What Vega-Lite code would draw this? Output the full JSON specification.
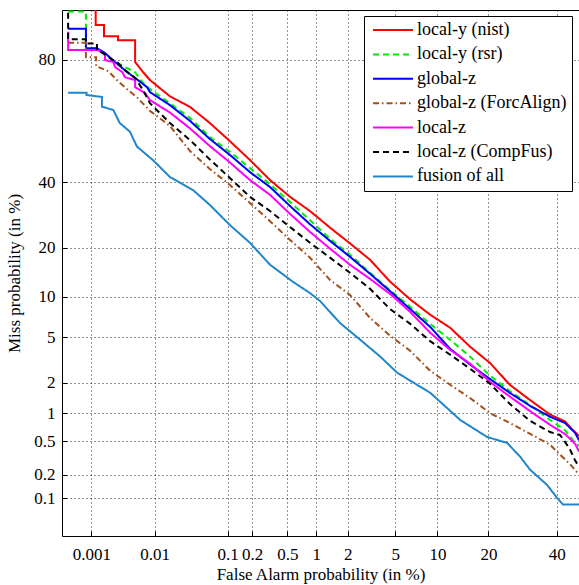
{
  "$schema": "https://vega.github.io/schema/vega-lite/v6.json",
  "width": 517,
  "height": 526,
  "autosize": {"type": "none"},
  "padding": {"left": 62, "top": 10, "right": 0, "bottom": 49},
  "background": "white",
  "config": {
    "font": "Liberation Serif",
    "view": {"stroke": "black", "strokeWidth": 1},
    "axis": {
      "grid": true, "gridDash": [1, 3], "gridColor": "#000000", "gridOpacity": 0.85, "gridWidth": 1,
      "domain": false, "ticks": true, "tickSize": -5, "tickColor": "#000000", "tickWidth": 1,
      "labelFont": "Liberation Serif", "labelFontSize": 17, "labelColor": "#000000",
      "titleFont": "Liberation Serif", "titleFontSize": 17, "titleFontWeight": "normal", "titleColor": "#000000",
      "labelOverlap": false, "labelFlush": false
    },
    "legend": {
      "orient": "none", "legendX": 302, "legendY": 6,
      "strokeColor": "#000000", "fillColor": "#ffffff", "padding": 5,
      "symbolType": "stroke", "symbolSize": 1600, "symbolStrokeWidth": 2,
      "labelFont": "Liberation Serif", "labelFontSize": 18, "labelColor": "#000000",
      "clipHeight": 18, "rowPadding": 6.4, "labelOffset": 3, "symbolOffset": 3, "labelLimit": 300
    }
  },
  "data": {"values": [
    {"s":"local-y (nist)","fa":0.00118,"miss":95},{"s":"local-y (nist)","fa":0.00118,"miss":87.6},{"s":"local-y (nist)","fa":0.00162,"miss":87.6},{"s":"local-y (nist)","fa":0.00162,"miss":85.4},{"s":"local-y (nist)","fa":0.00273,"miss":85.4},{"s":"local-y (nist)","fa":0.00273,"miss":84.6},{"s":"local-y (nist)","fa":0.00506,"miss":84.6},{"s":"local-y (nist)","fa":0.00506,"miss":79.5},{"s":"local-y (nist)","fa":0.0067,"miss":76.8},{"s":"local-y (nist)","fa":0.0085,"miss":74.6},{"s":"local-y (nist)","fa":0.0167,"miss":69.7},{"s":"local-y (nist)","fa":0.032,"miss":66.3},{"s":"local-y (nist)","fa":0.059,"miss":60.9},{"s":"local-y (nist)","fa":0.107,"miss":54.5},{"s":"local-y (nist)","fa":0.188,"miss":47.8},{"s":"local-y (nist)","fa":0.322,"miss":40.7},{"s":"local-y (nist)","fa":0.535,"miss":35.0},{"s":"local-y (nist)","fa":0.865,"miss":30.4},{"s":"local-y (nist)","fa":1.365,"miss":25.4},{"s":"local-y (nist)","fa":2.09,"miss":21.1},{"s":"local-y (nist)","fa":3.13,"miss":17.1},{"s":"local-y (nist)","fa":4.55,"miss":12.6},{"s":"local-y (nist)","fa":6.47,"miss":9.6},{"s":"local-y (nist)","fa":8.94,"miss":7.46},{"s":"local-y (nist)","fa":12.05,"miss":5.95},{"s":"local-y (nist)","fa":15.86,"miss":4.19},{"s":"local-y (nist)","fa":20.4,"miss":3.03},{"s":"local-y (nist)","fa":25.6,"miss":1.91},{"s":"local-y (nist)","fa":31.5,"miss":1.36},{"s":"local-y (nist)","fa":37.8,"miss":0.97},{"s":"local-y (nist)","fa":42.8,"miss":0.82},{"s":"local-y (nist)","fa":45.5,"miss":0.66},{"s":"local-y (nist)","fa":47.6,"miss":0.57},
    {"s":"local-y (rsr)","fa":0.0004,"miss":89.9},{"s":"local-y (rsr)","fa":0.00081,"miss":89.9},{"s":"local-y (rsr)","fa":0.00081,"miss":82.8},{"s":"local-y (rsr)","fa":0.00124,"miss":82.8},{"s":"local-y (rsr)","fa":0.00168,"miss":81.7},{"s":"local-y (rsr)","fa":0.0022,"miss":80.0},{"s":"local-y (rsr)","fa":0.0035,"miss":78.2},{"s":"local-y (rsr)","fa":0.00506,"miss":76.8},{"s":"local-y (rsr)","fa":0.0065,"miss":74.0},{"s":"local-y (rsr)","fa":0.0085,"miss":71.9},{"s":"local-y (rsr)","fa":0.0167,"miss":67.5},{"s":"local-y (rsr)","fa":0.032,"miss":62.6},{"s":"local-y (rsr)","fa":0.059,"miss":56.0},{"s":"local-y (rsr)","fa":0.107,"miss":50.7},{"s":"local-y (rsr)","fa":0.188,"miss":44.9},{"s":"local-y (rsr)","fa":0.322,"miss":39.3},{"s":"local-y (rsr)","fa":0.535,"miss":33.3},{"s":"local-y (rsr)","fa":0.865,"miss":27.6},{"s":"local-y (rsr)","fa":1.365,"miss":22.3},{"s":"local-y (rsr)","fa":2.09,"miss":18.3},{"s":"local-y (rsr)","fa":3.13,"miss":14.3},{"s":"local-y (rsr)","fa":4.55,"miss":11.1},{"s":"local-y (rsr)","fa":6.47,"miss":8.5},{"s":"local-y (rsr)","fa":8.94,"miss":6.37},{"s":"local-y (rsr)","fa":12.05,"miss":4.77},{"s":"local-y (rsr)","fa":15.86,"miss":3.45},{"s":"local-y (rsr)","fa":20.4,"miss":2.33},{"s":"local-y (rsr)","fa":25.6,"miss":1.67},{"s":"local-y (rsr)","fa":31.5,"miss":1.21},{"s":"local-y (rsr)","fa":37.8,"miss":0.85},{"s":"local-y (rsr)","fa":42.8,"miss":0.66},{"s":"local-y (rsr)","fa":46.2,"miss":0.48},{"s":"local-y (rsr)","fa":47.6,"miss":0.44},
    {"s":"global-z","fa":0.0004,"miss":86.9},{"s":"global-z","fa":0.00081,"miss":86.9},{"s":"global-z","fa":0.00081,"miss":82.8},{"s":"global-z","fa":0.00124,"miss":82.8},{"s":"global-z","fa":0.0014,"miss":82.4},{"s":"global-z","fa":0.00168,"miss":81.7},{"s":"global-z","fa":0.002,"miss":80.7},{"s":"global-z","fa":0.00244,"miss":79.5},{"s":"global-z","fa":0.0032,"miss":77.9},{"s":"global-z","fa":0.0038,"miss":76.8},{"s":"global-z","fa":0.00506,"miss":75.2},{"s":"global-z","fa":0.0077,"miss":72.5},{"s":"global-z","fa":0.0085,"miss":71.0},{"s":"global-z","fa":0.0167,"miss":66.9},{"s":"global-z","fa":0.032,"miss":61.6},{"s":"global-z","fa":0.059,"miss":55.3},{"s":"global-z","fa":0.107,"miss":49.6},{"s":"global-z","fa":0.188,"miss":43.5},{"s":"global-z","fa":0.322,"miss":38.3},{"s":"global-z","fa":0.535,"miss":32.0},{"s":"global-z","fa":0.865,"miss":26.4},{"s":"global-z","fa":1.365,"miss":21.75},{"s":"global-z","fa":2.09,"miss":17.8},{"s":"global-z","fa":3.13,"miss":14.1},{"s":"global-z","fa":4.55,"miss":10.9},{"s":"global-z","fa":6.47,"miss":8.2},{"s":"global-z","fa":8.94,"miss":6.04},{"s":"global-z","fa":12.05,"miss":4.02},{"s":"global-z","fa":15.86,"miss":2.94},{"s":"global-z","fa":20.4,"miss":2.17},{"s":"global-z","fa":25.6,"miss":1.6},{"s":"global-z","fa":31.5,"miss":1.19},{"s":"global-z","fa":37.8,"miss":0.92},{"s":"global-z","fa":42.8,"miss":0.79},{"s":"global-z","fa":46.2,"miss":0.62},{"s":"global-z","fa":47.6,"miss":0.51},
    {"s":"global-z (ForcAlign)","fa":0.0004,"miss":84.05},{"s":"global-z (ForcAlign)","fa":0.00081,"miss":84.05},{"s":"global-z (ForcAlign)","fa":0.00081,"miss":80.7},{"s":"global-z (ForcAlign)","fa":0.0012,"miss":80.7},{"s":"global-z (ForcAlign)","fa":0.0012,"miss":78.4},{"s":"global-z (ForcAlign)","fa":0.0019,"miss":77.1},{"s":"global-z (ForcAlign)","fa":0.00273,"miss":74.3},{"s":"global-z (ForcAlign)","fa":0.0038,"miss":71.9},{"s":"global-z (ForcAlign)","fa":0.0054,"miss":69.4},{"s":"global-z (ForcAlign)","fa":0.0085,"miss":65.0},{"s":"global-z (ForcAlign)","fa":0.0167,"miss":59.9},{"s":"global-z (ForcAlign)","fa":0.032,"miss":51.0},{"s":"global-z (ForcAlign)","fa":0.059,"miss":44.6},{"s":"global-z (ForcAlign)","fa":0.107,"miss":39.0},{"s":"global-z (ForcAlign)","fa":0.188,"miss":33.0},{"s":"global-z (ForcAlign)","fa":0.322,"miss":27.3},{"s":"global-z (ForcAlign)","fa":0.535,"miss":22.0},{"s":"global-z (ForcAlign)","fa":0.865,"miss":17.6},{"s":"global-z (ForcAlign)","fa":1.365,"miss":12.9},{"s":"global-z (ForcAlign)","fa":2.09,"miss":10.3},{"s":"global-z (ForcAlign)","fa":3.13,"miss":7.05},{"s":"global-z (ForcAlign)","fa":4.55,"miss":5.15},{"s":"global-z (ForcAlign)","fa":6.47,"miss":3.87},{"s":"global-z (ForcAlign)","fa":8.94,"miss":2.59},{"s":"global-z (ForcAlign)","fa":12.05,"miss":1.92},{"s":"global-z (ForcAlign)","fa":15.86,"miss":1.43},{"s":"global-z (ForcAlign)","fa":20.4,"miss":1.0},{"s":"global-z (ForcAlign)","fa":25.6,"miss":0.79},{"s":"global-z (ForcAlign)","fa":31.5,"miss":0.6},{"s":"global-z (ForcAlign)","fa":37.8,"miss":0.455},{"s":"global-z (ForcAlign)","fa":41.1,"miss":0.35},{"s":"global-z (ForcAlign)","fa":44.5,"miss":0.27},{"s":"global-z (ForcAlign)","fa":47.6,"miss":0.2},
    {"s":"local-z","fa":0.0004,"miss":86.3},{"s":"local-z","fa":0.0004,"miss":82.4},{"s":"local-z","fa":0.00129,"miss":82.4},{"s":"local-z","fa":0.00168,"miss":81.4},{"s":"local-z","fa":0.00168,"miss":80.0},{"s":"local-z","fa":0.0023,"miss":79.5},{"s":"local-z","fa":0.00244,"miss":78.2},{"s":"local-z","fa":0.0032,"miss":76.8},{"s":"local-z","fa":0.0035,"miss":75.4},{"s":"local-z","fa":0.00506,"miss":74.6},{"s":"local-z","fa":0.00506,"miss":72.5},{"s":"local-z","fa":0.0072,"miss":70.7},{"s":"local-z","fa":0.0085,"miss":68.5},{"s":"local-z","fa":0.0167,"miss":64.45},{"s":"local-z","fa":0.032,"miss":59.0},{"s":"local-z","fa":0.059,"miss":52.8},{"s":"local-z","fa":0.107,"miss":46.9},{"s":"local-z","fa":0.188,"miss":40.7},{"s":"local-z","fa":0.322,"miss":35.65},{"s":"local-z","fa":0.535,"miss":29.5},{"s":"local-z","fa":0.865,"miss":24.2},{"s":"local-z","fa":1.365,"miss":19.75},{"s":"local-z","fa":2.09,"miss":16.0},{"s":"local-z","fa":3.13,"miss":13.1},{"s":"local-z","fa":4.55,"miss":10.46},{"s":"local-z","fa":6.47,"miss":7.82},{"s":"local-z","fa":8.94,"miss":5.44},{"s":"local-z","fa":12.05,"miss":3.94},{"s":"local-z","fa":15.86,"miss":3.0},{"s":"local-z","fa":20.4,"miss":2.04},{"s":"local-z","fa":25.6,"miss":1.47},{"s":"local-z","fa":31.5,"miss":1.05},{"s":"local-z","fa":37.8,"miss":0.755},{"s":"local-z","fa":42.8,"miss":0.6},{"s":"local-z","fa":46.2,"miss":0.466},{"s":"local-z","fa":47.6,"miss":0.38},
    {"s":"local-z (CompFus)","fa":0.0004,"miss":89.7},{"s":"local-z (CompFus)","fa":0.0004,"miss":84.8},{"s":"local-z (CompFus)","fa":0.00081,"miss":84.8},{"s":"local-z (CompFus)","fa":0.00081,"miss":83.9},{"s":"local-z (CompFus)","fa":0.00124,"miss":83.9},{"s":"local-z (CompFus)","fa":0.00124,"miss":82.4},{"s":"local-z (CompFus)","fa":0.00168,"miss":81.4},{"s":"local-z (CompFus)","fa":0.002,"miss":80.5},{"s":"local-z (CompFus)","fa":0.00273,"miss":79.2},{"s":"local-z (CompFus)","fa":0.0035,"miss":77.4},{"s":"local-z (CompFus)","fa":0.00506,"miss":75.2},{"s":"local-z (CompFus)","fa":0.0067,"miss":71.6},{"s":"local-z (CompFus)","fa":0.0085,"miss":67.5},{"s":"local-z (CompFus)","fa":0.0167,"miss":60.9},{"s":"local-z (CompFus)","fa":0.032,"miss":54.9},{"s":"local-z (CompFus)","fa":0.059,"miss":48.0},{"s":"local-z (CompFus)","fa":0.107,"miss":41.4},{"s":"local-z (CompFus)","fa":0.188,"miss":35.0},{"s":"local-z (CompFus)","fa":0.322,"miss":30.4},{"s":"local-z (CompFus)","fa":0.535,"miss":25.6},{"s":"local-z (CompFus)","fa":0.865,"miss":21.25},{"s":"local-z (CompFus)","fa":1.365,"miss":17.6},{"s":"local-z (CompFus)","fa":2.09,"miss":14.3},{"s":"local-z (CompFus)","fa":3.13,"miss":11.3},{"s":"local-z (CompFus)","fa":4.55,"miss":8.2},{"s":"local-z (CompFus)","fa":6.47,"miss":6.37},{"s":"local-z (CompFus)","fa":8.94,"miss":4.65},{"s":"local-z (CompFus)","fa":12.05,"miss":3.59},{"s":"local-z (CompFus)","fa":15.86,"miss":2.7},{"s":"local-z (CompFus)","fa":20.4,"miss":1.96},{"s":"local-z (CompFus)","fa":25.6,"miss":1.24},{"s":"local-z (CompFus)","fa":31.5,"miss":0.83},{"s":"local-z (CompFus)","fa":37.8,"miss":0.63},{"s":"local-z (CompFus)","fa":41.1,"miss":0.585},{"s":"local-z (CompFus)","fa":42.8,"miss":0.49},{"s":"local-z (CompFus)","fa":44.5,"miss":0.4},{"s":"local-z (CompFus)","fa":46.2,"miss":0.3},{"s":"local-z (CompFus)","fa":47.6,"miss":0.25},
    {"s":"fusion of all","fa":0.0004,"miss":70.8},{"s":"fusion of all","fa":0.00083,"miss":70.8},{"s":"fusion of all","fa":0.00083,"miss":70.1},{"s":"fusion of all","fa":0.0015,"miss":69.5},{"s":"fusion of all","fa":0.0015,"miss":66.4},{"s":"fusion of all","fa":0.0023,"miss":65.3},{"s":"fusion of all","fa":0.0029,"miss":60.9},{"s":"fusion of all","fa":0.0042,"miss":57.9},{"s":"fusion of all","fa":0.0054,"miss":52.6},{"s":"fusion of all","fa":0.0094,"miss":47.8},{"s":"fusion of all","fa":0.0167,"miss":41.75},{"s":"fusion of all","fa":0.035,"miss":37.3},{"s":"fusion of all","fa":0.059,"miss":32.35},{"s":"fusion of all","fa":0.107,"miss":26.15},{"s":"fusion of all","fa":0.188,"miss":21.25},{"s":"fusion of all","fa":0.322,"miss":16.0},{"s":"fusion of all","fa":0.577,"miss":12.54},{"s":"fusion of all","fa":0.865,"miss":10.6},{"s":"fusion of all","fa":1.09,"miss":9.35},{"s":"fusion of all","fa":1.69,"miss":6.48},{"s":"fusion of all","fa":2.58,"miss":4.77},{"s":"fusion of all","fa":3.8,"miss":3.45},{"s":"fusion of all","fa":5.18,"miss":2.48},{"s":"fusion of all","fa":8.94,"miss":1.61},{"s":"fusion of all","fa":13.9,"miss":0.85},{"s":"fusion of all","fa":19.7,"miss":0.555},{"s":"fusion of all","fa":24.8,"miss":0.477},{"s":"fusion of all","fa":28.5,"miss":0.33},{"s":"fusion of all","fa":31.5,"miss":0.23},{"s":"fusion of all","fa":36.8,"miss":0.15},{"s":"fusion of all","fa":40.1,"miss":0.102},{"s":"fusion of all","fa":42.1,"miss":0.083},{"s":"fusion of all","fa":47.6,"miss":0.083}
  ]},
  "transform": [
    {"calculate": "quantileNormal(datum.fa / 100)", "as": "fa_z"},
    {"calculate": "quantileNormal(datum.miss / 100)", "as": "miss_z"}
  ],
  "mark": {"type": "line", "strokeWidth": 2, "clip": true},
  "encoding": {
    "x": {
      "field": "fa_z", "type": "quantitative",
      "scale": {"domain": [-4.518, -0.061], "nice": false, "zero": false},
      "axis": {
        "title": "False Alarm probability (in %)",
        "values": [-4.264891, -3.719016, -3.090232, -2.878162, -2.575829, -2.326348, -2.053749, -1.644854, -1.281552, -0.841621, -0.253347],
        "labelExpr": "format(cumulativeNormal(datum.value) * 100, '.2~r')",
        "labelPadding": 15, "titlePadding": 4
      }
    },
    "y": {
      "field": "miss_z", "type": "quantitative",
      "scale": {"domain": [-3.427, 1.29], "nice": false, "zero": false},
      "axis": {
        "title": "Miss probability (in %)",
        "values": [-3.090232, -2.878162, -2.575829, -2.326348, -2.053749, -1.644854, -1.281552, -0.841621, -0.253347, 0.841621],
        "labelExpr": "format(cumulativeNormal(datum.value) * 100, '.2~r')",
        "labelPadding": 12, "titlePadding": 10
      }
    },
    "color": {
      "field": "s", "type": "nominal", "title": null,
      "scale": {
        "domain": ["local-y (nist)", "local-y (rsr)", "global-z", "global-z (ForcAlign)", "local-z", "local-z (CompFus)", "fusion of all"],
        "range": ["#ff0000", "#00ee00", "#0000ff", "#a3501c", "#ff00ff", "#000000", "#2086cc"]
      },
      "legend": {"labelFont": "Liberation Serif", "labelFontSize": 18, "labelColor": "#000000"}
    },
    "strokeDash": {
      "field": "s", "type": "nominal", "title": null,
      "scale": {
        "domain": ["local-y (nist)", "local-y (rsr)", "global-z", "global-z (ForcAlign)", "local-z", "local-z (CompFus)", "fusion of all"],
        "range": [[1, 0], [6, 4], [1, 0], [6, 3, 1.5, 3], [1, 0], [6, 4], [1, 0]]
      },
      "legend": {"labelFont": "Liberation Serif", "labelFontSize": 18, "labelColor": "#000000"}
    },
    "order": {"value": null}
  }
}
